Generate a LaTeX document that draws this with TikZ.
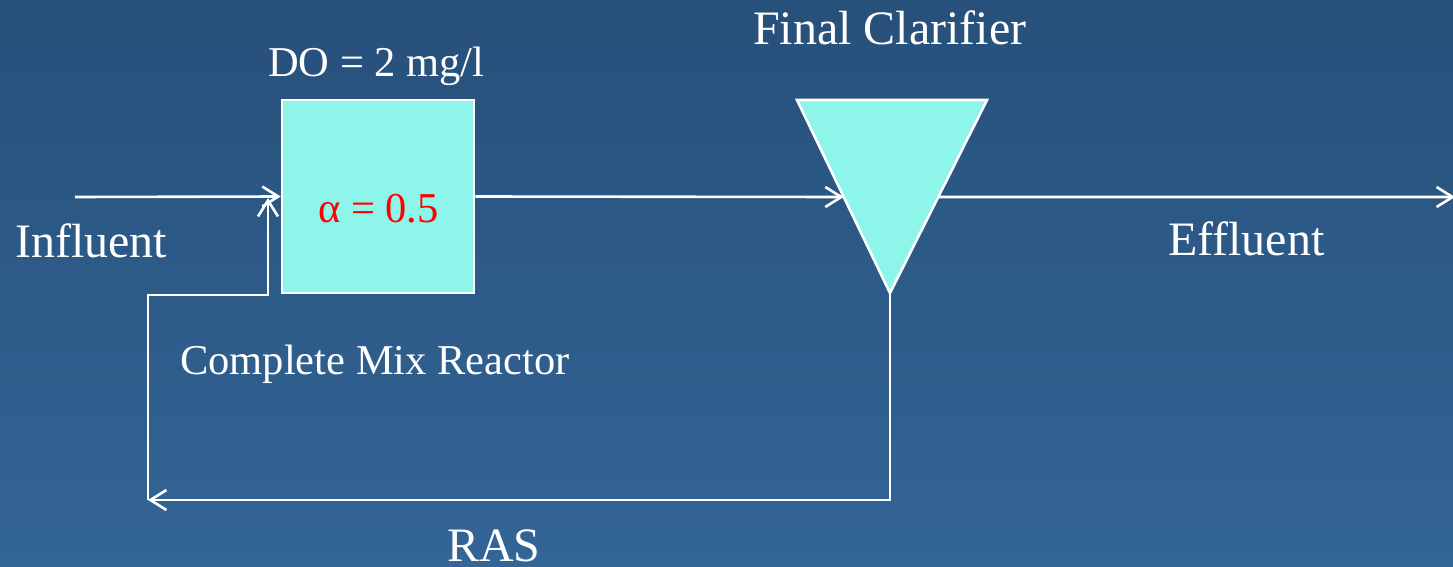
\documentclass[tikz,border=0pt]{standalone}
\usepackage{fontspec}
\setmainfont{Liberation Serif}
\usetikzlibrary{arrows.meta,calc}
\definecolor{bgtop}{RGB}{39,80,122}
\definecolor{bgbot}{RGB}{51,101,151}
\definecolor{tankfill}{RGB}{142,245,234}
\definecolor{alphared}{RGB}{255,0,0}
\tikzset{
  flow/.style={draw=white, line width=2.6pt,
    -{Straight Barb[length=16pt,width=20pt,line width=2.6pt]}},
  tank/.style={draw=white, line width=2.6pt, fill=tankfill},
  big/.style={text=white, inner sep=0pt, anchor=base west,
    font=\fontsize{48}{56}\selectfont},
  small/.style={text=white, inner sep=0pt, anchor=base west,
    font=\fontsize{42.5}{50}\selectfont},
}
\begin{document}
\begin{tikzpicture}[x=1pt,y=-1pt]
  % background
  \shade[top color=bgtop, bottom color=bgbot] (0,0) rectangle (1453,567);
  \useasboundingbox (0,0) rectangle (1453,567);

  % reactor
  \node[tank, minimum width=192pt, minimum height=193pt, inner sep=0pt]
    (reactor) at (378,196.5) {};
  \node[inner sep=0pt, anchor=base west, text=alphared,
    font=\fontsize{42.5}{50}\selectfont] (alpha) at (318,222) {α = 0.5};

  % clarifier
  \coordinate (ctl) at (797,100);
  \coordinate (ctr) at (987,100);
  \coordinate (cbot) at (890,293);
  \draw[tank, line join=miter] (ctl) -- (ctr) -- (cbot) -- cycle;
  \coordinate (cin) at ($(ctl)!0.5026!(cbot)$);
  \coordinate (cout) at ($(ctr)!0.5026!(cbot)$);

  % influent, transfer, effluent
  \coordinate (inf) at (75,197);
  \coordinate (eff) at (1455,197);
  \draw[flow] (inf) -- (reactor.west);
  \draw[flow] (reactor.east) -- (cin);
  \draw[flow] (cout) -- (eff);

  % return activated sludge
  \coordinate (rasR) at (890,500);
  \coordinate (rasL) at (148,500);
  \coordinate (up1) at (148,295);
  \coordinate (up2) at (268,295);
  \coordinate (rin) at (268,198);
  \draw[flow] (cbot) -- (rasR) -- (rasL);
  \draw[flow, line join=miter] (rasL) -- (up1) -- (up2) -- (rin);

  % labels
  \node[big] (lfc) at (753,45) {Final Clarifier};
  \node[small] (ldo) at (268,77) {DO = 2 mg/l};
  \node[big] (linf) at (15,257) {Influent};
  \node[big] (leff) at (1168,255) {Effluent};
  \node[small] (lcmr) at (180,374) {Complete Mix Reactor};
  \node[big] (lras) at (447,561) {RAS};
\end{tikzpicture}
\end{document}
